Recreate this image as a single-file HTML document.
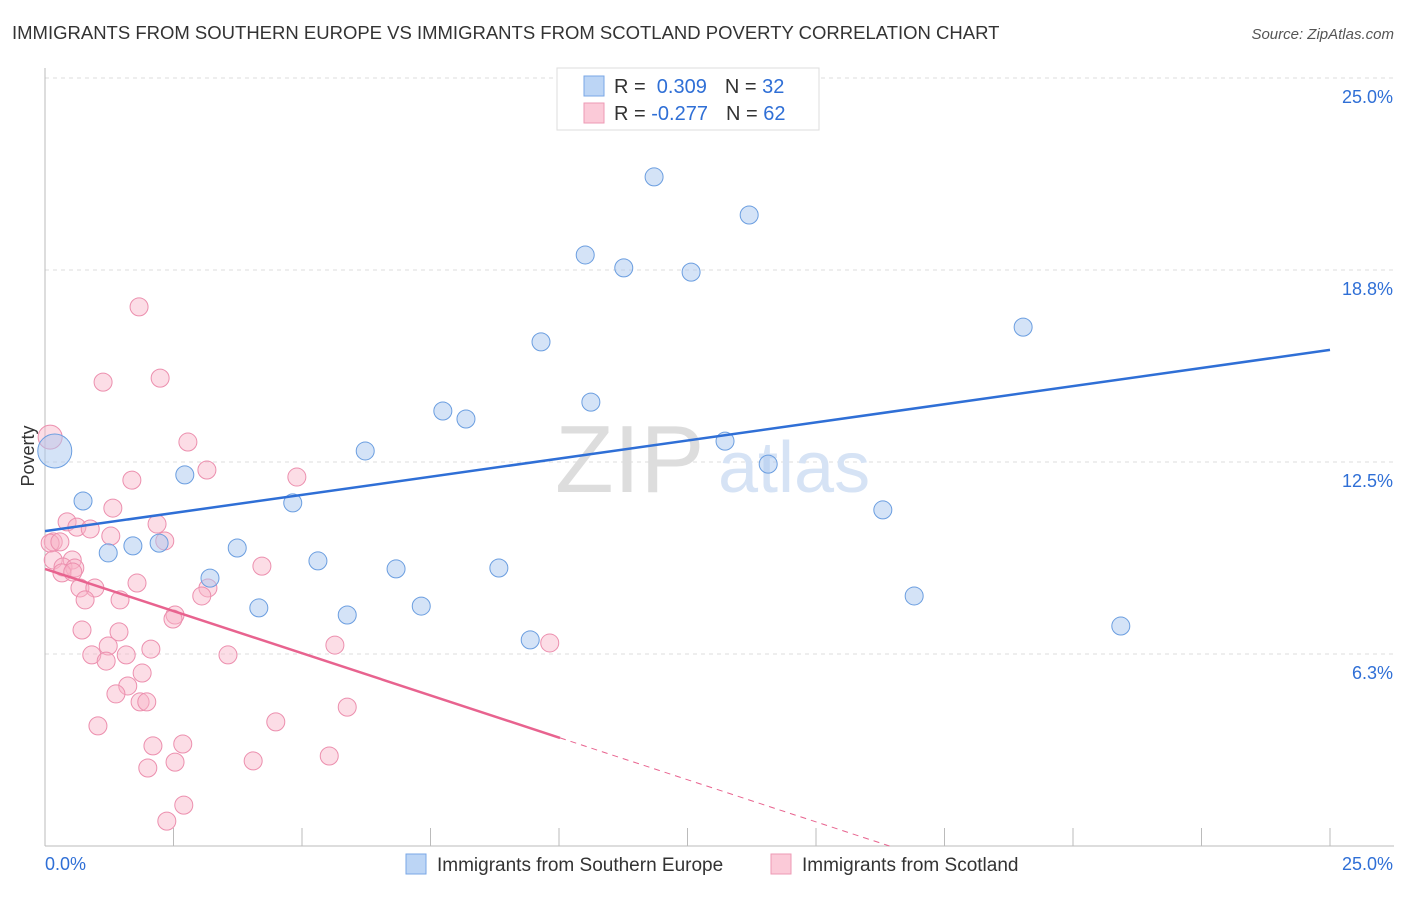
<!DOCTYPE html>
<html><head><meta charset="utf-8"><style>
body{margin:0;background:#fff;font-family:"Liberation Sans",sans-serif;}
svg text{font-family:"Liberation Sans",sans-serif;}
</style></head><body>
<svg id="chart" width="1406" height="892">
<text x="12" y="39" font-size="18.5" fill="#333">IMMIGRANTS FROM SOUTHERN EUROPE VS IMMIGRANTS FROM SCOTLAND POVERTY CORRELATION CHART</text>
<text x="1394" y="39" font-size="15" fill="#555" text-anchor="end" font-style="italic">Source: ZipAtlas.com</text>
<g id="grid"></g>
<g id="axes"></g>
<text x="555" y="492" font-size="96" fill="#ddd" font-family="Liberation Serif">ZIP</text>
<text x="718" y="492" font-size="72" fill="#d6e3f5">atlas</text>
<g id="marks"></g>
<text x="34" y="456" font-size="18" fill="#333" text-anchor="middle" transform="rotate(-90 34 456)">Poverty</text>
<g>
<rect x="557" y="68" width="262" height="62" fill="#fff" stroke="#ddd"/>
<rect x="584" y="76" width="20" height="20" fill="#bcd5f5" stroke="#7aa7e6"/>
<rect x="584" y="103" width="20" height="20" fill="#fbcad8" stroke="#ee9ab4"/>
<text x="614" y="93" font-size="20" fill="#333">R = <tspan fill="#2f6fd6">&#160;0.309</tspan><tspan dx="18">N = </tspan><tspan fill="#2f6fd6">32</tspan></text>
<text x="614" y="120" font-size="20" fill="#333">R = <tspan fill="#2f6fd6">-0.277</tspan><tspan dx="18">N = </tspan><tspan fill="#2f6fd6">62</tspan></text>
</g>
<g>
<rect x="406" y="854" width="20" height="20" fill="#bcd5f5" stroke="#7aa7e6"/>
<text x="437" y="871" font-size="19" fill="#333">Immigrants from Southern Europe</text>
<rect x="771" y="854" width="20" height="20" fill="#fbcad8" stroke="#ee9ab4"/>
<text x="802" y="871" font-size="19" fill="#333">Immigrants from Scotland</text>
</g>
</svg>
<script>
const yTicks=[6.25,12.5,18.75,25];
const yTickLabels=["6.3%","12.5%","18.8%","25.0%"];
const blueX=[0.19,0.74,1.23,1.71,2.22,2.72,3.21,3.74,4.16,4.82,5.31,5.88,6.23,6.83,7.32,7.74,8.19,8.83,9.44,9.65,10.51,10.62,11.26,11.85,12.57,13.23,13.70,14.07,16.30,16.91,19.03,20.93];
const blueY=[12.86,11.23,9.54,9.77,9.86,12.08,8.72,9.70,7.75,11.17,9.28,7.52,12.86,9.02,7.81,14.16,13.90,9.05,6.71,16.41,19.24,14.45,18.82,21.78,18.68,13.18,20.54,12.43,10.94,8.14,16.89,7.16];
const pinkX=[0.10,2.78,3.15,1.69,4.90,1.32,0.43,0.62,0.88,2.18,1.28,2.33,0.16,0.10,0.29,0.16,0.53,0.35,0.58,0.33,0.54,1.79,0.68,0.97,0.78,1.46,3.17,3.05,2.53,2.49,4.22,0.72,1.44,1.23,0.91,1.19,1.58,2.06,3.56,5.64,1.89,1.61,1.38,1.85,1.98,1.03,4.49,5.88,2.10,2.68,2.00,2.53,4.05,5.53,2.70,2.37,1.83,1.13,2.24,9.82];
const pinkY=[13.31,13.15,12.24,11.91,12.01,11.00,10.55,10.38,10.32,10.48,10.09,9.93,9.90,9.86,9.90,9.31,9.31,9.08,9.05,8.89,8.92,8.56,8.40,8.40,8.01,8.01,8.40,8.14,7.52,7.39,9.11,7.03,6.97,6.51,6.22,6.02,6.22,6.41,6.22,6.54,5.63,5.21,4.95,4.69,4.69,3.91,4.04,4.52,3.26,3.32,2.54,2.73,2.77,2.93,1.33,0.81,17.55,15.10,15.23,6.61];
const blueTrend=[10.25,16.15];
const pinkTrend=[9.02,-0.549];
const NS="http://www.w3.org/2000/svg";
const X=v=>45+v/25*1285, Y=v=>846-v/25*768;
function mk(t,a,p){const e=document.createElementNS(NS,t);for(const k in a)e.setAttribute(k,a[k]);p.appendChild(e);return e;}
const grid=document.getElementById('grid'),axes=document.getElementById('axes'),marks=document.getElementById('marks');
yTicks.forEach((t,i)=>{
 const l=mk('line',{x1:45,x2:1394,y1:Y(t),y2:Y(t),stroke:'#ddd','stroke-dasharray':'4,4'},grid);
 
 
 const tx=mk('text',{x:1393,y:Y(t)+25,'font-size':18,fill:'#2f6fd6','text-anchor':'end'},axes);
 tx.textContent=yTickLabels[i];
 
 
});
mk('line',{x1:45,x2:45,y1:68,y2:846,stroke:'#bbb'},axes);
mk('line',{x1:45,x2:1394,y1:846,y2:846,stroke:'#bbb'},axes);
for(let i=1;i<=10;i++){const t=mk('line',{x1:X(i*2.5),x2:X(i*2.5),y1:828,y2:846,stroke:'#bbb'},axes);
 
 }
const xl=mk('text',{x:45,y:870,'font-size':18,fill:'#2f6fd6'},axes);xl.textContent='0.0%';


const xr=mk('text',{x:1393,y:870,'font-size':18,fill:'#2f6fd6','text-anchor':'end'},axes);xr.textContent='25.0%';


pinkX.forEach((x,i)=>{const c=mk('circle',{cx:X(x),cy:Y(pinkY[i]),r:i===0?12:9,fill:'rgba(248,180,200,0.45)',stroke:'#ec8fae','stroke-width':1},marks);
 
 });
blueX.forEach((x,i)=>{const c=mk('circle',{cx:X(x),cy:Y(blueY[i]),r:i===0?17:9,fill:'rgba(170,200,240,0.5)',stroke:'#6b9ee0','stroke-width':1},marks);
 
 });
const bl=mk('line',{x1:X(0),y1:Y(blueTrend[0]),x2:X(25),y2:Y(blueTrend[1]),stroke:'#2f6fd6','stroke-width':2.5},marks);


const pEnd=10.02, zero=-pinkTrend[0]/pinkTrend[1];
const pl=mk('line',{x1:X(0),y1:Y(pinkTrend[0]),x2:X(pEnd),y2:Y(pinkTrend[0]+pinkTrend[1]*pEnd),stroke:'#e8638f','stroke-width':2.5},marks);


const pd=mk('line',{x1:X(pEnd),y1:Y(pinkTrend[0]+pinkTrend[1]*pEnd),x2:X(zero),y2:Y(0),stroke:'#e8638f','stroke-width':1,'stroke-dasharray':'6,5'},marks);


</script>
</body></html>
